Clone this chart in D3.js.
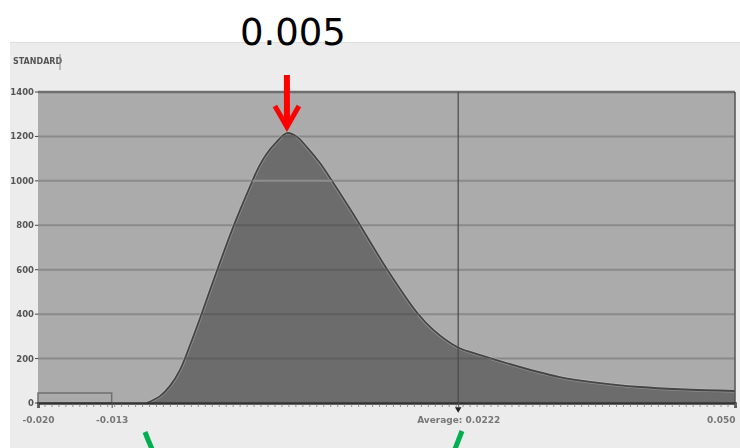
<!DOCTYPE html>
<html>
<head>
<meta charset="utf-8">
<script src="https://cdn.jsdelivr.net/npm/d3@7"></script>
<style>
  html, body { margin: 0; padding: 0; background: #ffffff; }
  svg { display: block; }
  .blur { filter: blur(0.6px); }
</style>
</head>
<body>
<svg id="chart" width="740" height="448"></svg>
<script>
// ---- data ----
const xValues = [-0.0091, -0.00775, -0.00674, -0.00574, -0.00473, -0.0037, -0.0020, -0.0004, 0.0013, 0.00209, 0.0029, 0.0039, 0.0050, 0.0060, 0.0070, 0.00832, 0.0096, 0.0116, 0.0151, 0.0181, 0.0197, 0.0221, 0.0244, 0.0324, 0.0405, 0.0500];
const counts  = [0, 31, 77, 149, 261, 385, 599, 792, 975, 1055, 1118, 1172, 1215, 1199, 1152, 1080, 995, 855, 599, 405, 329, 252, 216, 117, 72, 54];
const yTicks = [0, 200, 400, 600, 800, 1000, 1200, 1400];
const xTickValues = [-0.0200, -0.0126, 0.0222, 0.0500];
const xTickLabels = ["-0.020", "-0.013", "Average: 0.0222", "0.050"];
const baseBin = { x0: -0.0200, x1: -0.0126, count: 45 };
const peakLabel = "0.005";
const peakValue = 0.005;
const averageValue = 0.0222;
const yTitle = "STANDARD";

// ---- layout ----
const svg = d3.select("#chart");
const pL = 38, pR = 735, pT = 92, pB = 403;
const x = d3.scaleLinear().domain([-0.02, 0.05]).range([pL, pR]);
const y = d3.scaleLinear().domain([0, 1400]).range([pB, pT]);

// outer panel
svg.append("rect").attr("x", 0).attr("y", 0).attr("width", 740).attr("height", 448).attr("fill", "#ffffff");
svg.append("rect").attr("x", 10).attr("y", 42).attr("width", 730).attr("height", 406).attr("fill", "#ececec");
svg.append("line").attr("x1", 10).attr("x2", 740).attr("y1", 42.5).attr("y2", 42.5).attr("stroke", "#dedede");

// plot background
svg.append("rect").attr("x", pL).attr("y", pT).attr("width", pR - pL).attr("height", pB - pT).attr("fill", "#ababab");

// gridlines under the area
svg.append("g").selectAll("line").data(yTicks.slice(1)).join("line")
  .attr("x1", pL).attr("x2", pR)
  .attr("y1", d => y(d)).attr("y2", d => y(d))
  .attr("stroke", "#8a8a8a").attr("stroke-width", 2);

// base bin outline
svg.append("rect")
  .attr("x", x(baseBin.x0)).attr("y", y(baseBin.count))
  .attr("width", x(baseBin.x1) - x(baseBin.x0)).attr("height", y(0) - y(baseBin.count))
  .attr("fill", "none").attr("stroke", "#707070").attr("stroke-width", 1.5);

// area
const pts = xValues.map((v, i) => [v, counts[i]]);
const curve = d3.curveCatmullRom.alpha(0.5);
const area = d3.area().x(d => x(d[0])).y0(y(0)).y1(d => y(d[1])).curve(curve);
const line = d3.line().x(d => x(d[0])).y(d => y(d[1])).curve(curve);
svg.append("path").datum(pts).attr("d", area).attr("fill", "#6c6c6c");
svg.append("path").datum(pts).attr("d", line).attr("fill", "none").attr("stroke", "#cfcfcf").attr("stroke-width", 3.5).attr("opacity", 0.35);
svg.append("path").datum(pts).attr("d", line).attr("fill", "none").attr("stroke", "#454545").attr("stroke-width", 1.8);

// gridlines over the area (subtle)
const clipId = "areaClip";
svg.append("clipPath").attr("id", clipId).append("path").datum(pts).attr("d", area);
svg.append("g").attr("clip-path", `url(#${clipId})`).selectAll("line").data(yTicks.slice(1)).join("line")
  .attr("x1", pL).attr("x2", pR)
  .attr("y1", d => y(d)).attr("y2", d => y(d))
  .attr("stroke", d => d === 1000 ? "#8e8e8e" : "#5e5e5e").attr("stroke-width", 2);

// top and right borders
svg.append("line").attr("x1", pL).attr("x2", pR).attr("y1", pT).attr("y2", pT).attr("stroke", "#6e6e6e").attr("stroke-width", 2.5);
svg.append("line").attr("x1", pR).attr("x2", pR).attr("y1", pT).attr("y2", pB).attr("stroke", "#555").attr("stroke-width", 1.5);

// average line
svg.append("line").attr("x1", x(averageValue)).attr("x2", x(averageValue)).attr("y1", pT).attr("y2", pB)
  .attr("stroke", "#4a4a4a").attr("stroke-width", 1.2);
svg.append("path")
  .attr("d", d3.symbol().type(d3.symbolTriangle).size(18)())
  .attr("transform", `translate(${x(averageValue)},409) rotate(180)`).attr("fill", "#222");

// y axis labels
const gy = svg.append("g").attr("class", "blur");
gy.selectAll("text").data(yTicks).join("text")
  .attr("x", 34).attr("y", d => y(d) + 3)
  .attr("text-anchor", "end").attr("font-family", "DejaVu Sans, sans-serif").attr("font-size", 8.5).attr("font-weight", "bold")
  .attr("fill", "#555").text(d => d);
gy.selectAll("line").data(yTicks).join("line")
  .attr("x1", 35).attr("x2", pL).attr("y1", d => y(d)).attr("y2", d => y(d)).attr("stroke", "#444");
svg.append("text").attr("class", "blur").attr("x", 13).attr("y", 64)
  .attr("font-family", "DejaVu Sans, sans-serif").attr("font-size", 8).attr("font-weight", "bold")
  .attr("fill", "#555").text(yTitle);
svg.append("line").attr("x1", 60).attr("x2", 60).attr("y1", 54).attr("y2", 70).attr("stroke", "#888");

// x axis
const xAxis = d3.axisBottom(x).tickValues(xTickValues).tickFormat((d, i) => xTickLabels[i]).tickSize(5).tickPadding(9);
const gx = svg.append("g").attr("transform", `translate(0,${pB})`).call(xAxis);
gx.select(".domain").attr("stroke", "#333").attr("stroke-width", 2.5);
gx.selectAll(".tick line").attr("stroke", "#555");
gx.selectAll(".tick text").attr("class", "blur").attr("font-family", "DejaVu Sans, sans-serif").attr("font-size", 9).attr("font-weight", "bold").attr("fill", "#777");
gx.selectAll(".tick text").attr("text-anchor", (d, i) => i === xTickValues.length - 1 ? "end" : "middle");
// minor ticks
const minor = d3.range(-0.02, 0.05001, 0.0007);
svg.append("g").selectAll("line").data(minor).join("line")
  .attr("x1", d => x(d)).attr("x2", d => x(d)).attr("y1", pB + 1).attr("y2", pB + 4)
  .attr("stroke", "#777").attr("stroke-width", 0.8);

// peak annotation
svg.append("text").attr("x", x(peakValue) + 6).attr("y", 45).attr("text-anchor", "middle")
  .attr("font-family", "DejaVu Sans, sans-serif").attr("font-size", 37).attr("fill", "#000").text(peakLabel);
const px = x(peakValue);
svg.append("line").attr("x1", px).attr("x2", px).attr("y1", 75).attr("y2", 124)
  .attr("stroke", "#ff0000").attr("stroke-width", 6);
svg.append("path").attr("d", `M${px - 12},106 L${px},127 L${px + 12},106`)
  .attr("fill", "none").attr("stroke", "#ff0000").attr("stroke-width", 5).attr("stroke-linejoin", "miter");

// green annotation strokes (cut off at the bottom)
svg.append("path").attr("d", "M145,432 Q148,440 152,449").attr("fill", "none").attr("stroke", "#00b050").attr("stroke-width", 5);
svg.append("path").attr("d", "M462,431 L455,449").attr("fill", "none").attr("stroke", "#00b050").attr("stroke-width", 5);
</script>
</body>
</html>
